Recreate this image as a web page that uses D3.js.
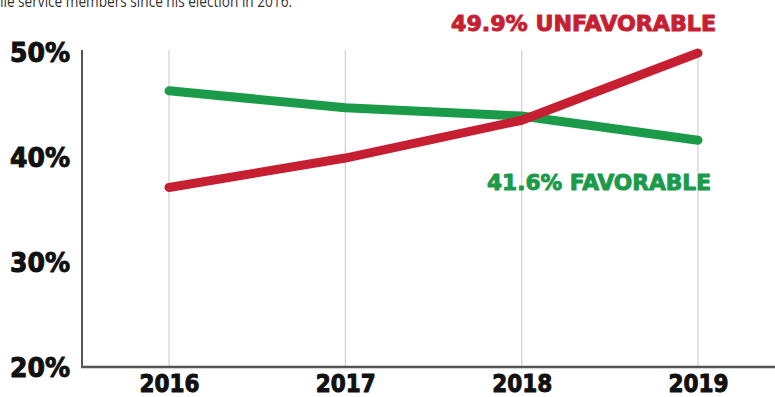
<!DOCTYPE html>
<html><head><meta charset="utf-8">
<script src="https://cdn.jsdelivr.net/npm/d3@7"></script>
<style>
html,body{margin:0;padding:0;background:#fff;}
svg{display:block;}
</style></head>
<body>
<svg id="chart" width="775" height="397"></svg>
<script>
const years = ["2016", "2017", "2018", "2019"];
const favorable = [46.3, 44.7, 43.9, 41.6];
const unfavorable = [37.1, 39.9, 43.5, 49.9];
const yTicks = [20, 30, 40, 50];
const favLabel = "41.6% FAVORABLE";
const unfavLabel = "49.9% UNFAVORABLE";
const introText = "rank-and-file service members since his election in 2016.";

const svg = d3.select("#chart");
const W = 775, H = 397;
const fontHeavy = "'DejaVu Sans', sans-serif";

const x = d3.scalePoint().domain(years).range([169, 698]);
const y = d3.scaleLinear().domain([20, 50]).range([367, 52]);

function heavy(sel, fill, size) {
  sel.attr("font-family", fontHeavy).attr("font-weight", 700).attr("font-style", "normal")
    .attr("font-size", size).attr("fill", fill)
    .attr("stroke", fill).attr("stroke-width", 1).attr("stroke-linejoin", "round");
}

// intro text (cut off at the top, as in the source); compressed so "ile service…" starts at the left edge
const intro = svg.append("text").attr("x", 292).attr("y", 7).attr("text-anchor", "end")
  .attr("font-family", "'Open Sans', sans-serif").attr("font-size", 16).attr("fill", "#333")
  .text(introText.slice(introText.indexOf("ile service")));
const wVisible = intro.node().getComputedTextLength();
intro.text(introText);
const wFull = intro.node().getComputedTextLength();
intro.attr("textLength", wFull * 292 / wVisible).attr("lengthAdjust", "spacingAndGlyphs");

// gridlines
svg.append("g").selectAll("line").data(years).join("line")
  .attr("x1", d => x(d)).attr("x2", d => x(d))
  .attr("y1", 50).attr("y2", 367)
  .attr("stroke", "#d0d0d0").attr("stroke-width", 1.2);

// y axis
const yAxis = svg.append("g").attr("transform", "translate(82,0)")
  .call(d3.axisLeft(y).tickValues(yTicks).tickSize(0).tickPadding(12).tickFormat(d => d + "%"));
yAxis.select(".domain").remove();
yAxis.selectAll("text").call(heavy, "#111", 26).attr("dy", "0.36em")
  .attr("textLength", 60).attr("lengthAdjust", "spacingAndGlyphs");
svg.append("line").attr("x1", 82).attr("x2", 82).attr("y1", 50).attr("y2", 368)
  .attr("stroke", "#555").attr("stroke-width", 2);

// x axis
const xAxis = svg.append("g").attr("transform", "translate(0,367)")
  .call(d3.axisBottom(x).tickSize(0).tickPadding(8));
xAxis.select(".domain").remove();
xAxis.selectAll("text").call(heavy, "#111", 24).attr("dy", "0.72em")
  .attr("textLength", 60).attr("lengthAdjust", "spacingAndGlyphs");
svg.append("line").attr("x1", 81).attr("x2", W).attr("y1", 367).attr("y2", 367)
  .attr("stroke", "#555").attr("stroke-width", 2.5);

const line = d3.line().x((d, i) => x(years[i])).y(d => y(d)).curve(d3.curveLinear);

svg.append("path").datum(favorable).attr("d", line)
  .attr("fill", "none").attr("stroke", "#1b9a4a").attr("stroke-width", 9)
  .attr("stroke-linecap", "round").attr("stroke-linejoin", "round");
svg.append("path").datum(unfavorable).attr("d", line)
  .attr("fill", "none").attr("stroke", "#c71f32").attr("stroke-width", 9)
  .attr("stroke-linecap", "round").attr("stroke-linejoin", "round");

svg.append("text").attr("x", 451).attr("y", 31)
  .call(heavy, "#c71f32", 22)
  .attr("textLength", 265).attr("lengthAdjust", "spacingAndGlyphs").text(unfavLabel);
svg.append("text").attr("x", 487).attr("y", 190)
  .call(heavy, "#1b9a4a", 22)
  .attr("textLength", 224).attr("lengthAdjust", "spacingAndGlyphs").text(favLabel);
</script>
</body></html>
